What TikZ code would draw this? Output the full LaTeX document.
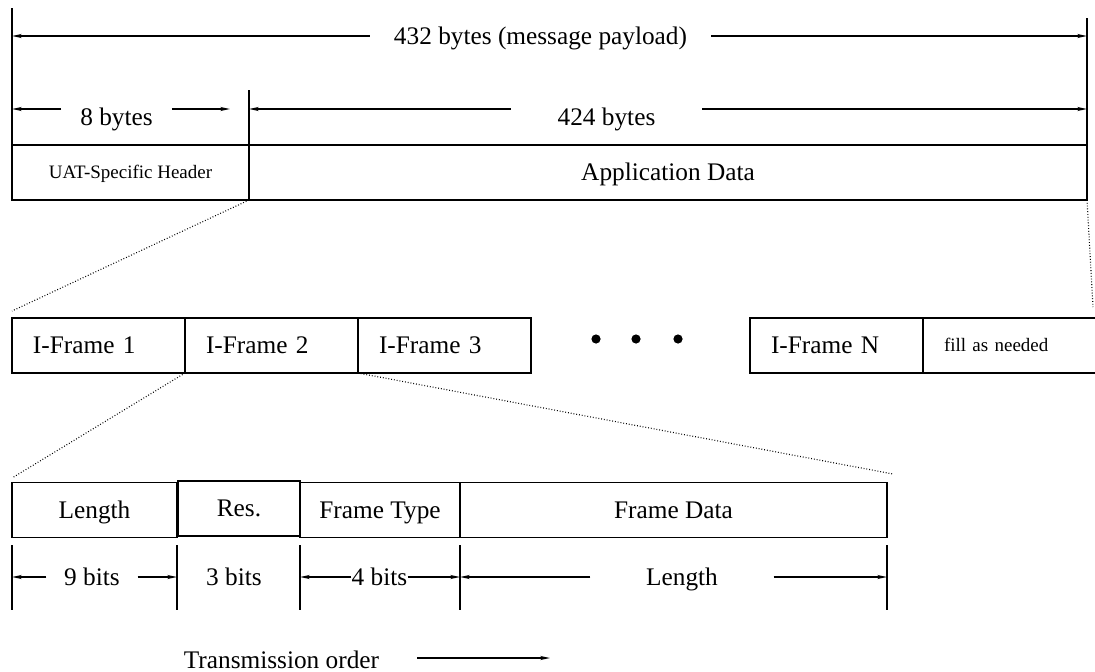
\documentclass[tikz,border=0pt]{standalone}
\usepackage{fontspec}
\setmainfont{Liberation Serif}
\usepackage{tikz}
\usetikzlibrary{arrows.meta,positioning}
\newcommand{\fieldfont}{\fontsize{18}{21}\selectfont}
\newcommand{\notefont}{\fontsize{13.5}{16}\selectfont}

\begin{document}
\begin{tikzpicture}[x=0.25mm, y=-0.25mm,
    field/.style={draw, line width=1.2pt, outer sep=0pt, inner sep=0pt, minimum height=13.75mm,
        font=\fieldfont, text height=12pt, text depth=0pt},
    note/.style={font=\notefont, text height=9pt},
    iframe/.style={field, align=left, text width=32.75mm, inner xsep=5.25mm},
    tick/.style={line width=1.2pt},
    dim/.style={line width=1.1pt, -{Stealth[length=2.4mm, width=1mm]}},
    zoomline/.style={line width=0.8pt, dash pattern=on 0.6pt off 1.4pt},
    lbl/.style={font=\fieldfont, inner ysep=0pt, text height=12pt, text depth=0pt},
    dot/.style={circle, fill, inner sep=0pt, minimum size=2.3mm}]
    \useasboundingbox (0,0) rectangle (1095,672);

    % Message payload
    \node[field, note, minimum width=59.25mm] (hdr) at (130.5,172.5) {UAT-Specific Header};
    \node[field, minimum width=209.5mm, anchor=west] (app) at (hdr.east) {Application Data};

    \coordinate (p0) at (12,8);
    \coordinate (p1) at (249,90);
    \coordinate (p2) at (1087,18);
    \draw[tick] (p0) -- (hdr.north west);
    \draw[tick] (p1) -- (app.north west);
    \draw[tick] (p2) -- (app.north east);

    \node[lbl, inner xsep=6mm] (pay) at (540.5,36) {432 bytes (message payload)};
    \draw[dim] (pay.west) -- (p0 |- pay);
    \draw[dim] (pay.east) -- (p2 |- pay);

    \coordinate (a8) at (230,109);
    \node[lbl, inner xsep=4.75mm] (n8) at (116.5,117) {8 bytes};
    \draw[dim] (n8.west |- a8) -- (p0 |- a8);
    \draw[dim] (n8.east |- a8) -- (a8);
    \node[lbl, inner xsep=11.6mm] (n424) at (606.5,117) {424 bytes};
    \draw[dim] (n424.west |- a8) -- (p1 |- a8);
    \draw[dim] (n424.east |- a8) -- (p2 |- a8);

    % I-Frames
    \foreach \i in {1,2,3} {
        \node[iframe] (f\i) at ({98.5+173*(\i-1)},345.5) {I-Frame \i};
    }
    \foreach \x [count=\i] in {596,636,678} {
        \node[dot] (dot\i) at (\x,339) {};
    }
    \node[iframe] (fN) at (836.5,345.5) {I-Frame N};
    \node[iframe, note, text width=34.5mm, anchor=west] (pad) at (fN.east) {fill as needed};

    % Frame fields
    \node[field, minimum width=41.25mm] (len) at (94.5,510) {Length};
    \node[field, minimum width=30.5mm] (res) at (239,508.5) {Res.};
    \node[field, minimum width=40mm] (ftype) at (380,510) {Frame Type};
    \node[field, minimum width=106.75mm] (fdata) at (673.5,510) {Frame Data};

    % Zoom lines
    \coordinate (z1) at (12,311);
    \coordinate (z2) at (1093,307);
    \coordinate (z3) at (12,478);
    \coordinate (z4) at (893,474);
    \draw[zoomline] (hdr.south east) -- (z1);
    \draw[zoomline] (app.south east) -- (z2);
    \draw[zoomline] (f2.south west) -- (z3);
    \draw[zoomline] (f3.south west) -- (z4);

    % Bit widths
    \foreach \x [count=\i] in {12,177,300,460,887} {
        \coordinate (bt\i) at (\x,545);
        \coordinate (bb\i) at (\x,610);
        \draw[tick] (bt\i) -- (bb\i);
    }
    \node[lbl, inner xsep=4.4mm] (n9) at (92,577) {9 bits};
    \draw[dim] (n9.west) -- (bt1 |- n9);
    \draw[dim] (n9.east) -- (bt2 |- n9);
    \node[lbl] (n3) at (234,577) {3 bits};
    \node[lbl, inner xsep=0pt] (n4) at (379.5,577) {4 bits};
    \draw[dim] (n4.west) -- (bt3 |- n4);
    \draw[dim] (n4.east) -- (bt4 |- n4);
    \node[lbl, inner xsep=13.9mm] (nlen) at (682,577) {Length};
    \draw[dim] (nlen.west) -- (bt4 |- nlen);
    \draw[dim] (nlen.east) -- (bt5 |- nlen);

    % Transmission order
    \node[lbl] (tx) at (281.5,660) {Transmission order};
    \coordinate (txa) at (417,658);
    \coordinate (txb) at (550,658);
    \draw[dim] (txa) -- (txb);
\end{tikzpicture}
\end{document}
